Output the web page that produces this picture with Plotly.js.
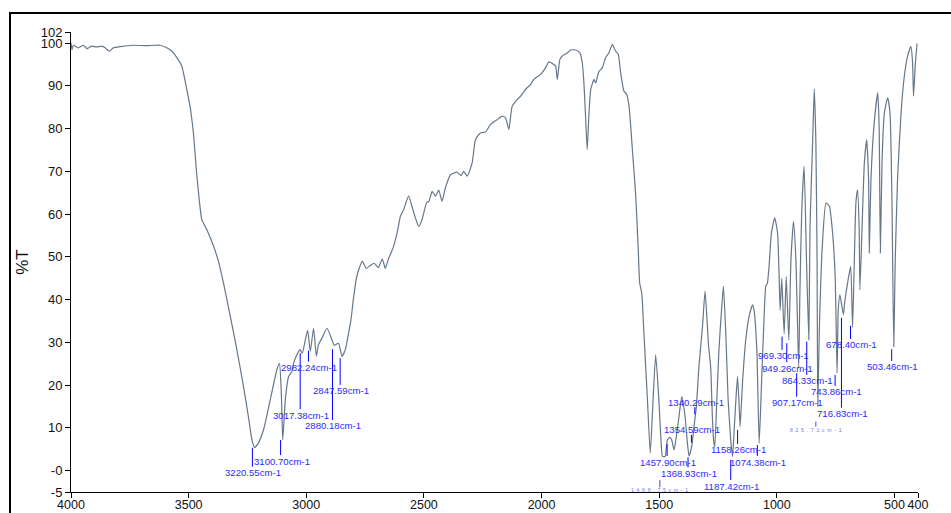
<!DOCTYPE html>
<html>
<head>
<meta charset="utf-8">
<script src="https://cdn.plot.ly/plotly-3.0.1.min.js"></script>
<style>
html,body{margin:0;padding:0;background:#fff;overflow:hidden;width:951px;height:513px;}
#frame{position:absolute;left:9px;top:12px;width:1200px;height:1200px;border-left:2px solid #000;border-top:2px solid #000;}
#chart{position:absolute;left:0;top:0;width:951px;height:513px;}
</style>
</head>
<body>
<div id="frame"></div>
<div id="chart"></div>
<script>
// ---- spectrum data (wavenumber cm-1, %T) ----
const wavenumber = [4000,3996,3990,3969,3948,3931,3912,3891,3869,3855,3837,3820,3791,3735,3678,3621,3593,3571,3550,3529,3508,3494,3480,3465,3455,3444,3423,3394,3373,3352,3323,3295,3267,3246,3232,3220,3205,3182,3153,3125,3114,3106,3100,3089,3075,3061,3054,3040,3026,3017,3004,2994,2983,2969,2957,2948,2933,2912,2891,2881,2863,2848,2834,2820,2810,2800,2787,2774,2762,2745,2728,2711,2694,2677,2664,2651,2631,2614,2600,2586,2565,2543,2522,2508,2489,2479,2465,2451,2437,2423,2409,2387,2359,2342,2331,2316,2295,2281,2260,2238,2217,2189,2167,2153,2139,2125,2103,2089,2068,2047,2033,2004,1983,1969,1948,1940,1933,1922,1912,1891,1877,1855,1837,1827,1820,1813,1806,1799,1791,1777,1770,1756,1742,1728,1714,1699,1685,1674,1664,1650,1638,1628,1614,1600,1589,1583,1574,1565,1550,1538,1526,1515,1503,1494,1486,1475,1465,1455,1447,1437,1427,1416,1404,1390,1380,1373,1362,1352,1342,1331,1316,1305,1295,1291,1281,1274,1269,1264,1255,1246,1235,1227,1217,1207,1196,1188,1182,1174,1167,1160,1156,1146,1132,1118,1103,1097,1085,1075,1065,1054,1047,1040,1033,1023,1009,997,990,986,979,969,960,949,940,929,919,907,902,894,884,874,864,859,848,841,834,829,826,819,806,791,777,763,752,744,739,732,717,712,697,686,678,664,657,650,647,638,628,618,610,607,600,586,571,565,560,553,543,529,519,511,503,497,487,472,458,444,430,423,419,411,404];
const transmittance = [100.1,98.5,99.5,98.9,99.5,98.7,99.3,99.1,99.3,98.9,98.1,98.9,99.2,99.5,99.4,99.5,98.9,98.1,96.6,94.6,89.2,85.2,79.1,68.9,63.4,58.7,56.4,52.5,48.9,43.9,36.1,28.3,19.7,12.6,7.5,5.4,6.3,9.5,16.6,23.6,25.1,18.0,7.2,16.6,22.0,23.2,25.1,27.1,28.3,27.5,30.6,32.8,27.9,33.3,26.8,29.5,31.0,33.3,30.6,29.3,29.8,26.7,28.3,32.2,35.3,40.0,45.0,47.5,49.0,47.3,48.0,48.5,47.5,49.5,47.3,49.5,52.1,55.6,59.5,61.1,64.2,60.3,57.1,58.7,62.6,63.0,65.3,64.2,65.6,63.0,66.1,69.2,69.8,69.0,70.0,68.9,72.0,77.4,79.0,79.2,81.0,82.1,82.9,82.5,79.8,85.2,86.8,87.6,89.2,90.3,91.5,92.7,94.2,95.6,95.0,94.6,91.5,96.2,97.0,97.7,98.4,98.4,97.7,95.4,90.7,82.9,75.1,82.9,89.2,91.5,90.7,93.4,94.2,96.6,97.7,99.7,98.1,97.4,93.1,88.8,88.0,85.2,75.1,64.5,51.7,43.9,41.5,32.2,16.6,4.1,16.6,27.1,18.1,8.8,3.4,3.3,7.2,7.8,7.2,4.8,8.0,12.6,17.3,12.6,6.4,3.4,5.6,10.3,15.0,24.4,33.7,42.0,33.7,29.8,24.0,12.6,7.2,5.6,16.6,28.3,37.6,43.1,32.2,16.6,7.2,3.3,8.8,16.6,22.0,15.0,10.3,20.5,30.6,36.1,38.8,37.6,28.3,6.4,20.5,36.1,43.1,43.9,47.8,55.6,59.1,55.6,45.0,37.5,45.0,32.0,45.4,30.5,49.3,58.3,49.3,24.0,41.5,61.0,71.2,49.3,30.6,57.1,76.7,89.3,76.7,49.0,15.0,33.7,53.3,62.6,61.9,55.6,45.4,22.8,37.6,41.1,36.5,39.2,44.7,47.8,33.5,62.6,65.7,56.4,42.3,56.4,72.0,77.4,68.1,50.9,68.1,81.4,88.4,79.8,50.9,72.0,83.7,87.2,83.7,64.2,29.0,48.6,68.1,83.7,92.3,97.0,99.2,95.4,87.6,95.4,99.9];

// ---- axis ticks ----
const xTickVals = [4000,3500,3000,2500,2000,1500,1000,500,400];
const xTickText = ['4000','3500','3000','2500','2000','1500','1000','500','400'];
const yBottom = -5;
const yTop = 102.6;   // axis end, labelled "102" as in the source software
const yTickVals = [yBottom,0,10,20,30,40,50,60,70,80,90,100,yTop];
const yTickText = ['-5','-0','10','20','30','40','50','60','70','80','90','100','102'];

// ---- peak picks ----
const peakWn = [3220.55,3100.70,3017.38,2982.24,2880.18,2847.59,1457.90,1368.93,1354.59,1340.29,1187.42,1158.26,1074.38,969.30,949.26,907.17,864.33,743.86,716.83,678.40,503.46];
const peakMarkTop = [5.36,7.16,27.46,28.07,28.4,26.29,6.23,3.11,8.34,14.82,2.48,9.5,5.99,31.35,29.81,22.78,30.18,22.38,35.73,33.86,28.4];
const peakMarkBottom = [0.91,3.65,14.35,25.5,11.85,20.04,3.42,0.77,6.53,13.18,-2.2,6.23,3.42,28.24,25.36,17.3,22.38,19.81,14.73,30.81,25.66];
const peakLabelAbove = [false,false,false,false,false,false,false,false,true,true,false,false,false,false,false,false,false,false,false,false,false];
const faintWn = [1488.75,825.71];
const faintMarkTop = [-2.2,11.45];
const faintMarkBottom = [-3.91,10.28];

const FONT = 'Liberation Sans, Arial, sans-serif';
const shiftWn = 2 / 0.2353; // markers sit ~2px left of the pick

const shapes = [];
const annotations = [];
peakWn.forEach((w,i)=>{
  const xm = w + shiftWn;
  shapes.push({type:'line',xref:'x',yref:'y',x0:xm,x1:xm,y0:peakMarkTop[i],y1:peakMarkBottom[i],line:{color:'#0000ff',width:1}});
  const above = peakLabelAbove[i];
  annotations.push({x:xm,y:above?peakMarkTop[i]:peakMarkBottom[i],xref:'x',yref:'y',text:w.toFixed(2)+'cm-1',showarrow:false,
    xanchor:'center',yanchor:above?'bottom':'top',xshift:1,yshift:above?-2.5:1.5,font:{family:FONT,size:9.6,color:'#2a2aff'}});
});
faintWn.forEach((w,i)=>{
  const xm = w + shiftWn;
  shapes.push({type:'line',xref:'x',yref:'y',x0:xm,x1:xm,y0:faintMarkTop[i],y1:faintMarkBottom[i],line:{color:'#4040ff',width:1}});
  const t = (w.toFixed(2)+'cm-1').split('').join('\u00a0\u00a0');
  annotations.push({x:xm,y:faintMarkBottom[i],xref:'x',yref:'y',text:t,showarrow:false,
    xanchor:'center',yanchor:'top',yshift:2,font:{family:FONT,size:5,color:'#7070ff'}});
});
// x-axis title, mostly below the visible window as in the reference
annotations.push({x:0.518,y:-0.04,xref:'paper',yref:'paper',yanchor:'top',xanchor:'center',text:'cm-1',showarrow:false,
  font:{family:FONT,size:13,color:'#111'}});

const trace = {
  x: wavenumber, y: transmittance, type:'scatter', mode:'lines',
  line:{color:'#66778a', width:1.2, shape:'spline', smoothing:0.5},
  hoverinfo:'skip'
};

const layout = {
  width:951, height:513,
  margin:{l:71, r:33, t:32, b:21},
  paper_bgcolor:'rgba(0,0,0,0)', plot_bgcolor:'rgba(0,0,0,0)',
  showlegend:false,
  font:{family:FONT, color:'#111', size:13},
  xaxis:{range:[4000,400], tickvals:xTickVals, ticktext:xTickText, showgrid:false, zeroline:false,
    showline:true, linecolor:'#000', linewidth:1, ticks:'outside', ticklen:5, tickcolor:'#000',
    ticklabelstandoff:-4,
    tickfont:{size:12.5, family:FONT, color:'#111'}},
  yaxis:{range:[yBottom,yTop], tickvals:yTickVals, ticktext:yTickText, showgrid:false, zeroline:false,
    showline:true, linecolor:'#000', linewidth:1, ticks:'outside', ticklen:5, tickcolor:'#000',
    tickfont:{size:13, family:FONT, color:'#111'},
    title:{text:'%T', font:{size:17, family:FONT, color:'#111'}, standoff:7}},
  shapes: shapes,
  annotations: annotations
};

Plotly.newPlot('chart',[trace],layout,{staticPlot:true, displayModeBar:false});
</script>
</body>
</html>
